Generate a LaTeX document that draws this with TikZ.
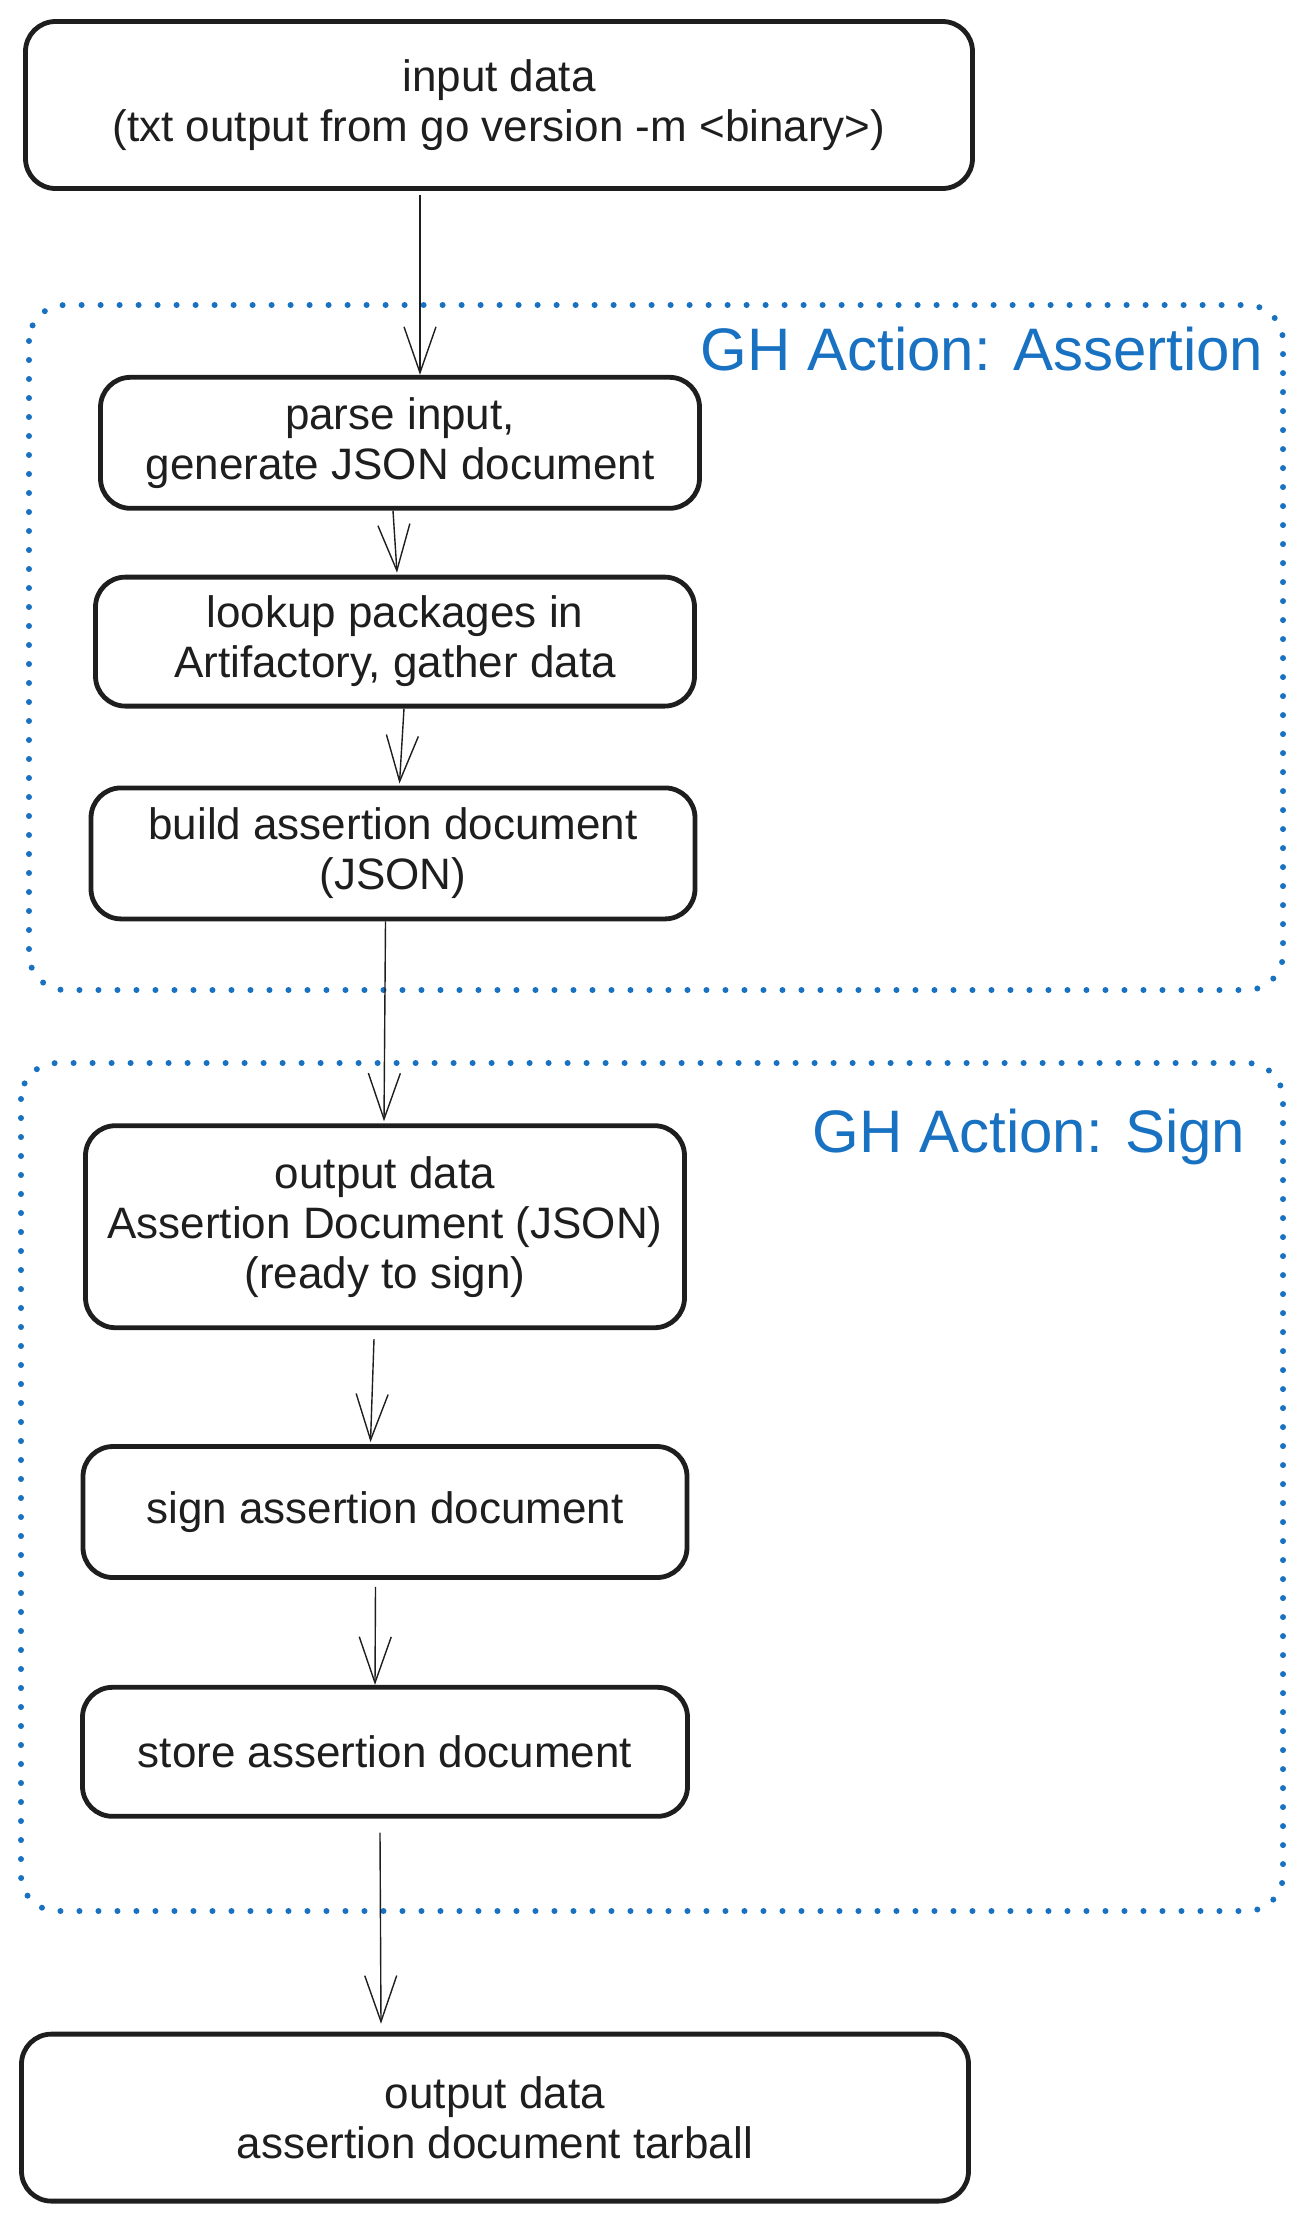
\documentclass[tikz,border=0pt]{standalone}
\usepackage{fontspec}
\setmainfont{Liberation Sans}
\usetikzlibrary{arrows.meta,positioning}
\definecolor{ink}{HTML}{1E1E1E}
\definecolor{ghblue}{HTML}{1971C2}
\tikzset{box/.style={draw=ink,line width=2.4pt,rounded corners=15pt,align=center,text=ink,font=\fontsize{22}{25}\selectfont,minimum width=299.5pt,minimum height=65.5pt,inner sep=0pt},wide/.style={minimum width=473.5pt,minimum height=83.5pt},arr/.style={-{Straight Barb[length=23pt,width=16pt]},line width=0.7pt,draw=ink,line join=round},grp/.style={draw=ghblue,line width=3pt,dash pattern=on 0pt off 9.5pt,line cap=round,rounded corners=18pt},grptitle/.style={text=ghblue,font=\fontsize{30}{34}\selectfont,anchor=base}}

\begin{document}
\begin{tikzpicture}[node distance=32pt]
\useasboundingbox (0,0) rectangle (648pt,-1111.5pt);
\draw[grp] (14.5pt,-152.5pt) rectangle (641.5pt,-495pt);
\draw[grp] (10.5pt,-531.5pt) rectangle (641.5pt,-955.5pt);
\node[grptitle] (assertT) at (491pt,-185pt) {GH Action: Assertion};
\node[grptitle] (signT) at (514.5pt,-576pt) {GH Action: Sign};
\node[box,wide] (input) at (249.5pt,-52.5pt) {input data\\(txt output from go version -m <binary>)};
\node[box,below=92pt of input,xshift=-49.5pt] (parse) {parse input,\\generate JSON document};
\node[box,minimum height=64.5pt,below=32pt of parse,xshift=-2.5pt] (lookup) {lookup packages in\\Artifactory, gather data};
\node[box,minimum width=302pt,below=38.5pt of lookup,xshift=-1pt] (build) {build assertion document\\(JSON)};
\node[box,minimum height=101pt,below=101pt of build,xshift=-4pt] (output) {output data\\Assertion Document (JSON)\\(ready to sign)};
\node[box,minimum width=302pt,below=57pt of output] (sign) {sign assertion document};
\node[box,minimum width=302.5pt,minimum height=64.5pt,below=52.5pt of sign] (store) {store assertion document};
\node[box,wide,below=106.5pt of store,xshift=55pt] (tarball) {output data\\assertion document tarball};
\draw[arr] ([xshift=-39.5pt,yshift=-2pt]input.south) -- ([xshift=10pt]parse.north);
\draw[arr] ([xshift=-3.5pt]parse.south) -- ([xshift=1pt,yshift=1pt]lookup.north);
\draw[arr] ([xshift=4.5pt]lookup.south) -- ([xshift=3.25pt,yshift=1pt]build.north);
\draw[arr] ([xshift=-3.75pt]build.south) -- ([xshift=-0.5pt,yshift=1pt]output.north);
\draw[arr] ([xshift=-5.5pt,yshift=-4.5pt]output.south) -- ([xshift=-7.25pt,yshift=1pt]sign.north);
\draw[arr] ([xshift=-4.75pt,yshift=-3.5pt]sign.south) -- ([xshift=-5pt]store.north);
\draw[arr] ([xshift=-2.5pt,yshift=-7pt]store.south) -- ([xshift=-57pt,yshift=4pt]tarball.north);
\end{tikzpicture}
\end{document}
